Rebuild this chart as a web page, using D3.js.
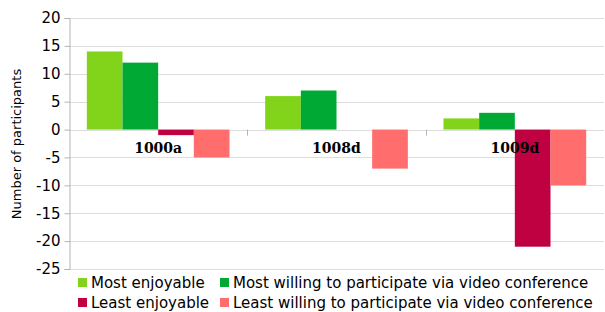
<!DOCTYPE html>
<html>
<head>
  <meta charset="utf-8">
  <style type="text/css">
    body { margin: 0; background: #fff; }
    svg text { font-family: "DejaVu Sans", sans-serif; }
    .grid line { stroke: #dddddd; stroke-width: 1px; }
    .cat-label { font-family: "DejaVu Serif", serif; font-weight: bold; font-size: 14px; }
  </style>
</head>
<body>
  <div id="chart"></div>
  <script src="https://cdnjs.cloudflare.com/ajax/libs/d3/7.8.5/d3.min.js"></script>
  <script type="text/javascript">
  var categories = ['1000a', '1008d', '1009d'];
  var seriesNames = [
    'Most enjoyable',
    'Most willing to participate via video conference',
    'Least enjoyable',
    'Least willing to participate via video conference'
  ];
  var mostEnjoyable = [14, 6, 2];
  var mostWilling = [12, 7, 3];
  var leastEnjoyable = [-1, 0, -21];
  var leastWilling = [-5, -7, -10];
  var yTicks = [20, 15, 10, 5, 0, -5, -10, -15, -20, -25];
  var colors = ['#81d41a', '#00a933', '#bf0041', '#ff6d6d'];

  var series = [mostEnjoyable, mostWilling, leastEnjoyable, leastWilling];

  var cfg = { w: 605, h: 312, left: 69, right: 604, top: 18, bottom: 269 };

  var svg = d3.select('#chart').append('svg')
    .attr('width', cfg.w)
    .attr('height', cfg.h);

  var y = d3.scaleLinear()
    .domain([-25, 20])
    .range([cfg.bottom, cfg.top]);

  var x0 = d3.scaleBand()
    .domain(categories)
    .range([cfg.left, cfg.right])
    .paddingInner(0.2)
    .paddingOuter(0.1);

  // group scale covering full category slot
  var slot = d3.scaleBand()
    .domain(categories)
    .range([cfg.left, cfg.right]);

  var x1 = d3.scaleBand()
    .domain(d3.range(series.length))
    .range([0, x0.bandwidth()]);

  // gridlines
  svg.append('g').attr('class', 'grid')
    .selectAll('line')
    .data(yTicks)
    .enter()
    .append('line')
    .attr('x1', cfg.left)
    .attr('x2', cfg.right)
    .attr('y1', function(d) { return Math.round(y(d)) + 0.5 })
    .attr('y2', function(d) { return Math.round(y(d)) + 0.5 });

  // bars
  var rows = [];
  series.forEach(function(s, si) {
    s.forEach(function(v, ci) {
      rows.push({ s: si, c: categories[ci], v: v });
    });
  });

  svg.append('g').selectAll('rect')
    .data(rows)
    .enter()
    .append('rect')
    .attr('x', function(d) { return x0(d.c) + x1(d.s) })
    .attr('width', x1.bandwidth())
    .attr('y', function(d) { return y(Math.max(0, d.v)) })
    .attr('height', function(d) { return Math.abs(y(d.v) - y(0)) })
    .style('fill', function(d) { return colors[d.s] });

  // y axis
  var yAxis = d3.axisLeft(y)
    .tickValues(yTicks)
    .tickSize(5)
    .tickPadding(4)
    .tickFormat(function(d) { return String(d) });

  var yG = svg.append('g')
    .attr('transform', 'translate(' + (cfg.left + 0.5) + ',0)')
    .call(yAxis);
  yG.select('.domain').attr('stroke', '#b3b3b3');
  yG.selectAll('.tick line').attr('stroke', '#b3b3b3');
  yG.selectAll('.tick text')
    .style('font-family', '"DejaVu Sans", sans-serif')
    .style('font-size', '15px')
    .attr('fill', '#000');

  // category tick marks at slot boundaries
  svg.append('g').selectAll('line')
    .data(categories.slice(1))
    .enter()
    .append('line')
    .attr('x1', function(d) { return Math.round(slot(d)) + 0.5 })
    .attr('x2', function(d) { return Math.round(slot(d)) + 0.5 })
    .attr('y1', y(0))
    .attr('y2', y(0) + 6)
    .attr('stroke', '#b3b3b3');

  // category labels
  svg.append('g').selectAll('text')
    .data(categories)
    .enter()
    .append('text')
    .attr('class', 'cat-label')
    .attr('x', function(d) { return slot(d) + slot.bandwidth() / 2 })
    .attr('y', y(0) + 23)
    .attr('text-anchor', 'middle')
    .text(function(d) { return d });

  // y axis title
  svg.append('text')
    .attr('transform', 'translate(21,' + 144 + ') rotate(-90)')
    .attr('text-anchor', 'middle')
    .style('font-size', '13px')
    .text('Number of participants');

  // legend
  var legendPos = [[78, 278], [220, 278], [78, 298], [220, 298]];
  var legend = svg.append('g').selectAll('g')
    .data(seriesNames)
    .enter()
    .append('g')
    .attr('transform', function(d, i) { return 'translate(' + legendPos[i][0] + ',' + legendPos[i][1] + ')' });

  legend.append('rect')
    .attr('width', 9)
    .attr('height', 9)
    .style('fill', function(d, i) { return colors[i] });

  legend.append('text')
    .attr('x', 13)
    .attr('y', 10)
    .style('font-size', '15px')
    .text(function(d) { return d });
  </script>
</body>
</html>
